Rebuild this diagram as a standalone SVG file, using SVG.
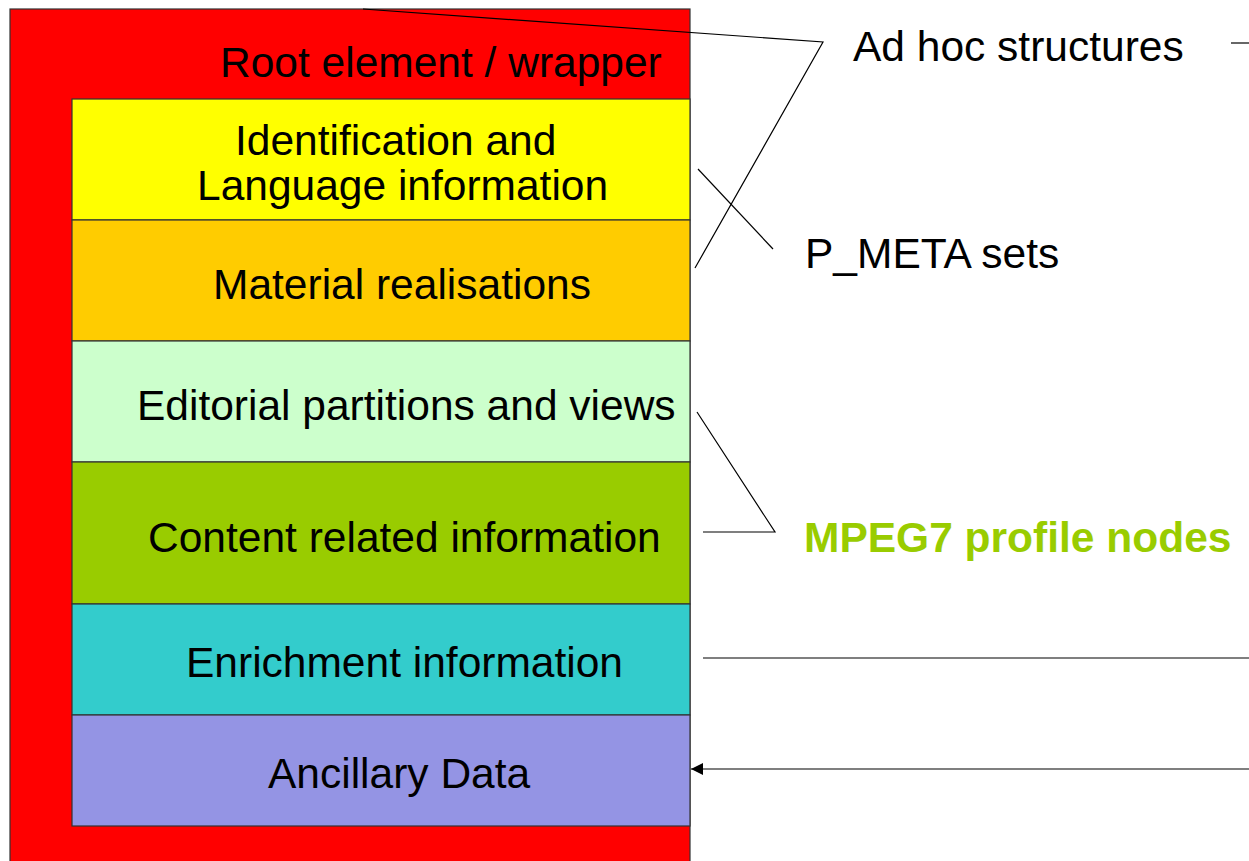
<svg xmlns="http://www.w3.org/2000/svg" width="1249" height="861" viewBox="0 0 1249 861">
<defs>
<style>
.t{font-family:"Liberation Sans",Arial,sans-serif;font-size:42.5px;fill:#000}
.box{stroke:#333;stroke-width:1.2}
.ln{stroke:#000;stroke-width:1.2;fill:none}
</style>
<marker id="ah" viewBox="0 0 12 12" refX="12" refY="6" markerWidth="12" markerHeight="12" markerUnits="userSpaceOnUse" orient="auto">
<path d="M0,0 L12,6 L0,12 Z" fill="#000"/>
</marker>
</defs>
<rect width="1249" height="861" fill="#fff"/>
<g id="root">
<rect class="box" x="10" y="9" width="680" height="870" fill="#ff0000"/>
<text class="t" x="220" y="77">Root element / wrapper</text>
</g>
<g id="identification">
<rect class="box" x="72" y="99" width="618" height="121" fill="#ffff00"/>
<text class="t" x="235" y="155">Identification and</text>
<text class="t" x="197" y="200">Language information</text>
</g>
<g id="material">
<rect class="box" x="72" y="220" width="618" height="121" fill="#ffcc00"/>
<text class="t" x="213" y="299">Material realisations</text>
</g>
<g id="editorial">
<rect class="box" x="72" y="341" width="618" height="121" fill="#ccffcc"/>
<text class="t" x="137" y="420">Editorial partitions and views</text>
</g>
<g id="content">
<rect class="box" x="72" y="462" width="618" height="142" fill="#99cc00"/>
<text class="t" x="148" y="552">Content related information</text>
</g>
<g id="enrichment">
<rect class="box" x="72" y="604" width="618" height="111" fill="#33cccc"/>
<text class="t" x="186" y="677">Enrichment information</text>
</g>
<g id="ancillary">
<rect class="box" x="72" y="715" width="618" height="111" fill="#9494e4"/>
<text class="t" x="268" y="788">Ancillary Data</text>
</g>
<g id="adhoc">
<text class="t" x="853" y="61">Ad hoc structures</text>
</g>
<g id="pmeta">
<text class="t" x="805" y="268">P_META sets</text>
</g>
<g id="mpeg7">
<text class="t" x="804" y="552" style="font-weight:bold;fill:#99cc00">MPEG7 profile nodes</text>
</g>
<g id="connectors">
<polyline class="ln" points="363,9 823,42 695,268"/>
<line class="ln" x1="1231" y1="43" x2="1249" y2="43"/>
<line class="ln" x1="698" y1="169" x2="773" y2="249"/>
<polyline class="ln" points="697,412 775,532 703,532"/>
<line class="ln" x1="703" y1="658" x2="1249" y2="658"/>
<line class="ln" x1="1249" y1="769" x2="691" y2="769" marker-end="url(#ah)"/>
</g>
</svg>
